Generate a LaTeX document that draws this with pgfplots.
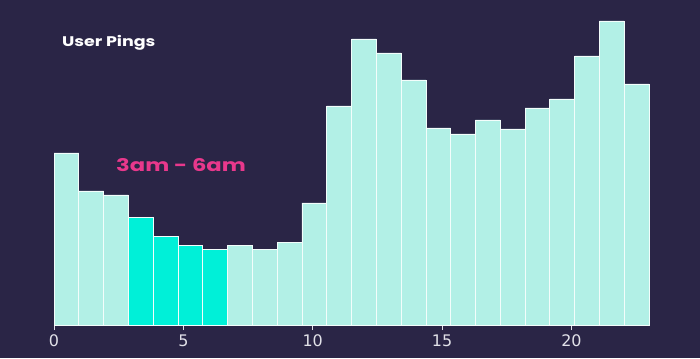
\documentclass[border=0pt]{standalone}
\usepackage{pgfplots}
\pgfplotsset{compat=1.18}
\usepackage{graphicx}
\usepackage{fontspec}
\setmainfont{DejaVu Sans}
\newfontfamily\titlefont{Poppins}[UprightFont=* SemiBold, BoldFont=* Bold]
\definecolor{bg}{RGB}{42,37,70}
\definecolor{lightbar}{RGB}{178,240,230}
\definecolor{cyanbar}{RGB}{0,240,216}
\definecolor{pinktxt}{RGB}{232,56,140}
\definecolor{ticktxt}{RGB}{225,225,232}
\begin{document}
\begin{tikzpicture}[x=1bp,y=1bp]
\fill[bg] (0,0) rectangle (700,358);
\useasboundingbox (0,0) rectangle (700,358);
\begin{axis}[
  at={(54bp,33bp)}, anchor=south west,
  scale only axis, width=595bp, height=304bp,
  xmin=0, xmax=23, ymin=0, ymax=304,
  axis y line=none,
  axis x line*=bottom,
  x axis line style={draw=ticktxt, line width=0.6pt, -},
  xtick={0,5,10,15,20},
  tick align=outside,
  major tick length=5bp,
  every tick/.style={draw=ticktxt, line width=0.6pt},
  /pgf/number format/assume math mode=true,
  tick label style={font=\fontsize{16}{16}\selectfont, text=ticktxt},
  xticklabel style={yshift=-1bp},
  clip=false,
]
\addplot[ybar, bar shift=0pt, bar width=0.958333, fill=lightbar, draw=white!85!lightbar, line width=0.7pt] coordinates {
(0.4792,172) (1.4375,134) (2.3958,130) (3.3542,108) (4.3125,89) (5.2708,80)
(6.2292,76) (7.1875,80) (8.1458,76) (9.1042,83) (10.0625,122) (11.0208,219)
(11.9792,286) (12.9375,272) (13.8958,245) (14.8542,197) (15.8125,191) (16.7708,205)
(17.7292,196) (18.6875,217) (19.6458,226) (20.6042,269) (21.5625,304) (22.5208,241)
};
\addplot[ybar, bar shift=0pt, bar width=0.958333, fill=cyanbar, draw=white!85!lightbar, line width=0.7pt] coordinates {
(3.3542,108) (4.3125,89) (5.2708,80) (6.2292,76)
};
\end{axis}
\node[anchor=west, inner sep=0pt, text=white, font=\titlefont\bfseries\fontsize{14}{15}\selectfont] at (62,315) {\scalebox{1.25}[1]{User Pings}};
\node[anchor=west, inner sep=0pt, text=pinktxt, font=\titlefont\bfseries\fontsize{17.5}{18}\selectfont] at (116,193) {\scalebox{1.3}[1]{3am - 6am}};
\end{tikzpicture}
\end{document}
